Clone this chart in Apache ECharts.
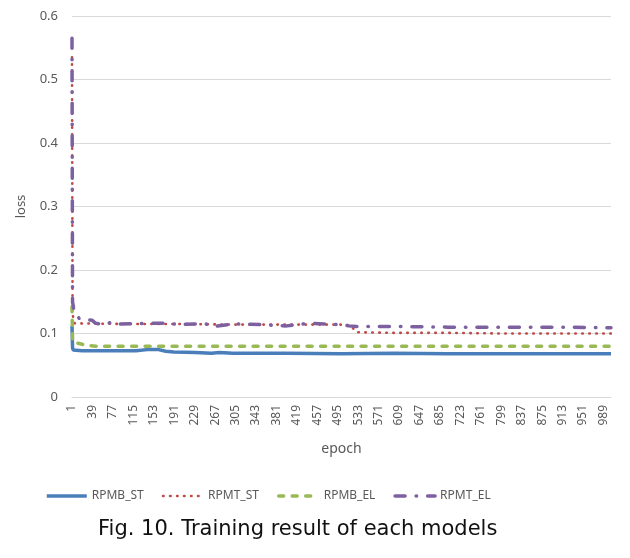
<!DOCTYPE html>
<html>
<head>
<meta charset="utf-8">
<script src="https://cdn.jsdelivr.net/npm/echarts@6/dist/echarts.min.js"></script>
<style>
  html, body { margin: 0; padding: 0; background: #fff; }
  #chart { width: 630px; height: 558px; }
</style>
</head>
<body>
<div id="chart"></div>
<script>
// epoch tick labels on the x axis
const epochTicks = [1, 39, 77, 115, 153, 191, 229, 267, 305, 343, 381, 419, 457, 495,
  533, 571, 609, 647, 685, 723, 761, 799, 837, 875, 913, 951, 989];

// RPMB_ST (blue, solid)
const rpmbStEpochs = [1, 2, 3, 20, 60, 120, 145, 160, 175, 190, 230, 260, 275, 300, 400, 500, 600, 700, 800, 900, 1003];
const rpmbStLoss = [0.112, 0.078, 0.074, 0.073, 0.073, 0.073, 0.075, 0.075, 0.072, 0.071, 0.070, 0.069, 0.070, 0.069, 0.069, 0.068, 0.069, 0.068, 0.068, 0.068, 0.068];

// RPMT_ST (red, dotted)
const rpmtStEpochs = [1, 2, 3, 6, 100, 200, 300, 400, 500, 518, 530, 600, 700, 800, 900, 1003];
const rpmtStLoss = [0.535, 0.145, 0.125, 0.116, 0.115, 0.115, 0.114, 0.114, 0.114, 0.113, 0.102, 0.101, 0.101, 0.100, 0.100, 0.100];

// RPMB_EL (green, dashed)
const rpmbElEpochs = [1, 2, 3, 10, 20, 30, 45, 200, 400, 600, 800, 1003];
const rpmbElLoss = [0.142, 0.092, 0.086, 0.085, 0.083, 0.081, 0.080, 0.080, 0.080, 0.080, 0.080, 0.080];

// RPMT_EL (purple, dash-dot)
const rpmtElEpochs = [1, 2, 4, 8, 14, 20, 38, 45, 60, 75, 90, 140, 180, 200, 230, 250, 265, 300, 350, 400, 440, 470, 500, 515, 530, 600, 700, 800, 900, 1003];
const rpmtElLoss = [0.565, 0.15, 0.14, 0.133, 0.124, 0.122, 0.121, 0.116, 0.114, 0.118, 0.115, 0.116, 0.116, 0.114, 0.115, 0.115, 0.111, 0.115, 0.114, 0.112, 0.116, 0.115, 0.114, 0.112, 0.111, 0.111, 0.110, 0.110, 0.110, 0.109];

const pairs = (xs, ys) => xs.map((x, i) => [x, ys[i]]);

const chart = echarts.init(document.getElementById('chart'));
const font = 'Noto Sans';

chart.setOption({
  animation: false,
  backgroundColor: '#fff',
  textStyle: { fontFamily: font },
  grid: { left: 72, right: 19, top: 16, bottom: 161 },
  legend: {
    left: 40,
    top: 485,
    itemWidth: 40,
    itemHeight: 14,
    itemGap: 18,
    itemStyle: { opacity: 0 },
    textStyle: { fontFamily: font, fontSize: 12, color: '#595959' },
    data: [
      { name: 'RPMB_ST', lineStyle: { width: 3.5 } },
      { name: 'RPMT_ST', lineStyle: { width: 2.6 } },
      { name: 'RPMB_EL', lineStyle: { width: 3.5 } },
      { name: 'RPMT_EL', lineStyle: { width: 3.5 } }
    ]
  },
  title: {
    text: 'Fig. 10. Training result of each models',
    left: 93,
    top: 514,
    textStyle: { fontFamily: 'DejaVu Sans', fontSize: 21, fontWeight: 'normal', color: '#111' }
  },
  xAxis: {
    type: 'value',
    min: 1,
    max: 1003,
    name: 'epoch',
    nameLocation: 'middle',
    nameGap: 45,
    nameTextStyle: { fontFamily: font, fontSize: 14, color: '#595959' },
    axisLine: { show: true, lineStyle: { color: '#d9d9d9' } },
    axisTick: { show: false },
    splitLine: { show: false },
    axisLabel: {
      customValues: epochTicks,
      rotate: 90,
      margin: 8,
      fontSize: 12,
      color: '#595959',
      fontFamily: font
    }
  },
  yAxis: {
    type: 'value',
    min: 0,
    max: 0.6,
    interval: 0.1,
    name: 'loss',
    nameLocation: 'middle',
    nameGap: 44,
    nameTextStyle: { fontFamily: font, fontSize: 13, color: '#595959' },
    axisLine: { show: false },
    axisTick: { show: false },
    splitLine: { lineStyle: { color: '#d9d9d9', width: 1 } },
    axisLabel: { fontSize: 13, color: '#595959', margin: 14, fontFamily: font }
  },
  series: [
    {
      name: 'RPMB_ST', type: 'line', symbol: 'none',
      data: pairs(rpmbStEpochs, rpmbStLoss),
      color: '#4a7ebb',
      lineStyle: { color: '#4a7ebb', width: 3.5 }
    },
    {
      name: 'RPMT_ST', type: 'line', symbol: 'none',
      data: pairs(rpmtStEpochs, rpmtStLoss),
      color: '#be4b48',
      lineStyle: { color: '#be4b48', width: 2.6, type: [0.5, 6.5], cap: 'round' }
    },
    {
      name: 'RPMB_EL', type: 'line', symbol: 'none',
      data: pairs(rpmbElEpochs, rpmbElLoss),
      color: '#98b954',
      lineStyle: { color: '#98b954', width: 3.5, type: [5, 8.5], cap: 'round' }
    },
    {
      name: 'RPMT_EL', type: 'line', symbol: 'none',
      data: pairs(rpmtElEpochs, rpmtElLoss),
      color: '#7d60a0',
      lineStyle: { color: '#7d60a0', width: 3.5, type: [10, 11, 0.5, 11], cap: 'round' }
    }
  ]
});
</script>
</body>
</html>
